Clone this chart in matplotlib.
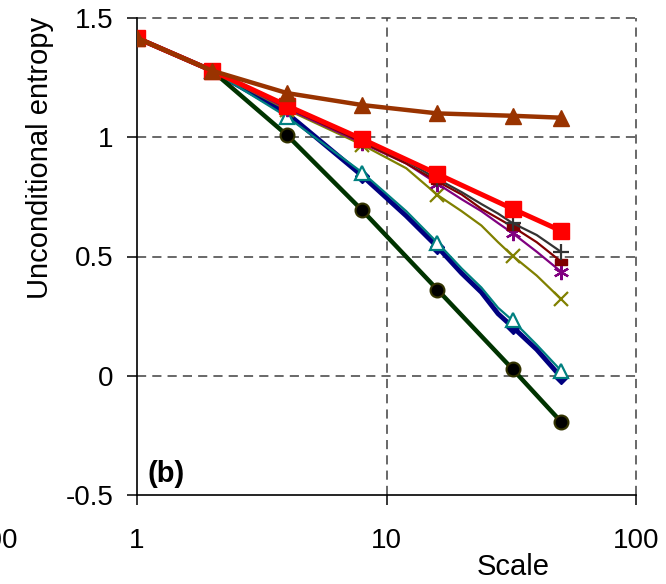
import matplotlib
matplotlib.use("Agg")
import matplotlib.pyplot as plt
from matplotlib.ticker import NullLocator

plt.rcParams['font.family'] = ['Liberation Sans', 'DejaVu Sans']

# scales where every curve carries a marker
scales = [1, 2, 4, 8, 16, 32, 50]
# finer scales for the curves sampled in between
scales_fine = [1, 2, 4, 8, 12, 16, 20, 24, 28, 32, 40, 50]
mark_idx = [0, 1, 2, 3, 5, 9, 11]

navy = [1.416, 1.279, 1.10, 0.838, 0.67, 0.54, 0.43, 0.35, 0.26, 0.205, 0.11, -0.005]
teal = [1.416, 1.279, 1.085, 0.852, 0.69, 0.558, 0.45, 0.37, 0.285, 0.232, 0.13, 0.022]
gray = [1.416, 1.279, 1.13, 0.985, 0.90, 0.825, 0.77, 0.72, 0.68, 0.64, 0.59, 0.52]
darkred = [1.416, 1.279, 1.125, 0.98, 0.89, 0.815, 0.76, 0.70, 0.66, 0.625, 0.56, 0.479]
purple = [1.416, 1.279, 1.12, 0.975, 0.89, 0.805, 0.74, 0.69, 0.64, 0.598, 0.52, 0.437]
olive = [1.416, 1.279, 1.115, 0.968, 0.87, 0.758, 0.69, 0.63, 0.56, 0.503, 0.42, 0.322]

brown = [1.416, 1.279, 1.185, 1.135, 1.10, 1.09, 1.082]
red = [1.416, 1.279, 1.132, 0.992, 0.846, 0.700, 0.608]
green = [1.416, 1.279, 1.008, 0.693, 0.361, 0.028, -0.192]

xticks = [1, 10, 100]
yticks = [-0.5, 0, 0.5, 1, 1.5]

W, H = 666, 584
fig = plt.figure(figsize=(W / 100, H / 100), dpi=100)
ax = fig.add_axes([137 / W, 1 - 495 / H, (636 - 137) / W, (495 - 18) / H])

# dashed grid, drawn by hand so the edge lines are not clipped
for y in [0, 0.5, 1, 1.5]:
    ax.axhline(y, color='#404040', lw=1.1, dashes=(6, 4), clip_on=False, zorder=1)
for x in [10, 100]:
    ax.axvline(x, color='#404040', lw=1.1, dashes=(6, 4), clip_on=False, zorder=1)

rect = [(-1, -0.55), (1, -0.55), (1, 0.55), (-1, 0.55), (-1, -0.55)]

ax.plot(scales_fine, navy, color='#000080', lw=3.5, marker='D', ms=7.5,
        markevery=mark_idx, mfc='#000080', mec='#000080', zorder=3)
ax.plot(scales_fine, teal, color='#008080', lw=1.6, marker='^', ms=10.5,
        markevery=mark_idx, mfc='white', mec='#008080', mew=1.6, zorder=4)
ax.plot(scales_fine, olive, color='#808000', lw=1.6, marker='x', ms=10,
        markevery=mark_idx, mec='#808000', mew=1.6, zorder=4)
ax.plot(scales_fine, purple, color='#800080', lw=1.6, marker=(6, 2, 0), ms=11,
        markevery=mark_idx, mec='#800080', mew=1.6, zorder=4)
ax.plot(scales_fine, darkred, color='#800000', lw=1.6, marker=rect, ms=9,
        markevery=mark_idx, mfc='#800000', mec='#800000', zorder=4)
ax.plot(scales_fine, gray, color='#333333', lw=1.6, marker='+', ms=11,
        markevery=mark_idx, mec='#333333', mew=1.6, zorder=4)
ax.plot(scales, green, color='#003300', lw=3.2, marker='o', ms=10,
        mfc='black', mec='#333300', mew=1.5, zorder=5)
ax.plot(scales, red, color='#ff0000', lw=3.6, marker='s', ms=12,
        mfc='#ff0000', mec='#ff0000', zorder=6)
ax.plot(scales, brown, color='#993300', lw=3.2, marker='^', ms=12,
        mfc='#993300', mec='#993300', zorder=7)

ax.set_xscale('log')
ax.set_xlim(1, 100)
ax.set_ylim(-0.5, 1.5)
ax.set_xticks(xticks)
ax.set_xticklabels([str(t) for t in xticks])
ax.set_yticks(yticks)
ax.set_yticklabels(['-0.5', '0', '0.5', '1', '1.5'])
ax.xaxis.set_minor_locator(NullLocator())
ax.tick_params(axis='both', direction='out', length=7, width=1.1,
               labelsize=20, color='black')
ax.tick_params(axis='x', pad=17)
ax.tick_params(axis='y', pad=10)

for side in ['top', 'right']:
    ax.spines[side].set_visible(False)
for side in ['left', 'bottom']:
    ax.spines[side].set_linewidth(1.2)
    ax.spines[side].set_zorder(2)

fig.text(40 / W, 1 - 158 / H, 'Unconditional entropy', rotation=90,
         ha='center', va='center', fontsize=21)
fig.text(513 / W, 1 - 567 / H, 'Scale', ha='center', va='center', fontsize=21)
fig.text(166 / W, 1 - 474 / H, '(b)', ha='center', va='center',
         fontsize=21, fontweight='bold')
# edge of the neighbouring panel's axis label
fig.text(18 / W, 1 - 541 / H, '100', ha='right', va='center', fontsize=20)

fig.savefig('out.png', dpi=100)
